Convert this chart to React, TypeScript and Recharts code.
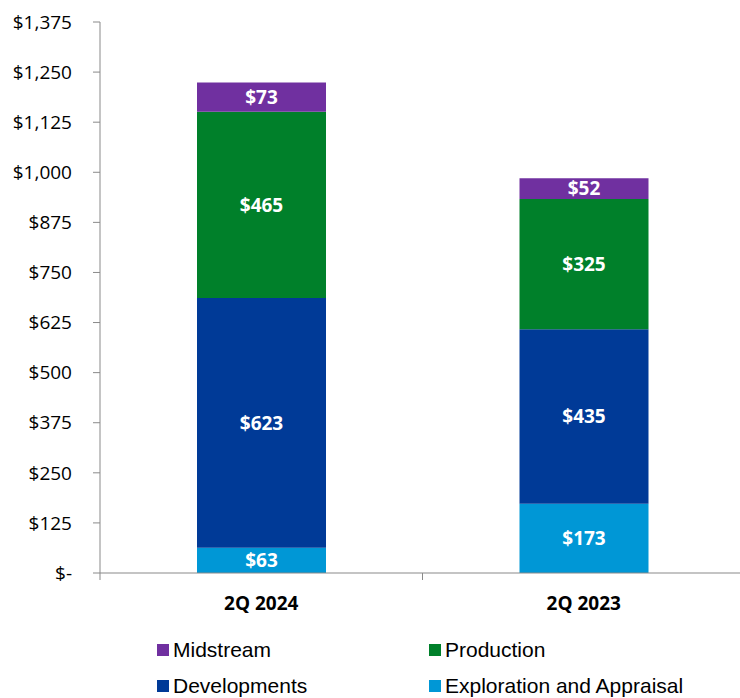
import React from "react";
import { BarChart, Bar, XAxis, YAxis, Legend, LabelList } from "recharts";

const quarters = ["2Q 2024", "2Q 2023"];
const exploration = [63, 173];
const developments = [623, 435];
const production = [465, 325];
const midstream = [73, 52];
const yTicks = [0, 125, 250, 375, 500, 625, 750, 875, 1000, 1125, 1250, 1375];

const seriesInfo = [
  { key: "midstream", name: "Midstream", color: "#7030A0" },
  { key: "production", name: "Production", color: "#00802A" },
  { key: "developments", name: "Developments", color: "#003A97" },
  { key: "exploration", name: "Exploration and Appraisal", color: "#0097D6" },
];

const data = quarters.map((q, i) => ({
  quarter: q,
  exploration: exploration[i],
  developments: developments[i],
  production: production[i],
  midstream: midstream[i],
}));

const AXIS = "#898989";
const NUM_FONT = "'Open Sans', sans-serif";

const fmtY = (v: number) => (v === 0 ? "$-" : "$" + v.toLocaleString("en-US"));

const XTick = (props: any) => {
  const { x, y, payload } = props;
  const off = payload && typeof payload.offset === "number" ? payload.offset : 161;
  return (
    <g>
      <line x1={x - off} x2={x - off} y1={y} y2={y + 7} stroke={AXIS} strokeWidth={1} />
      <line x1={x + off} x2={x + off} y1={y} y2={y + 7} stroke={AXIS} strokeWidth={1} />
      <text x={x} y={y + 37} textAnchor="middle" fontFamily={NUM_FONT} fontWeight={700} fontSize={19} fill="#000">
        {payload.value}
      </text>
    </g>
  );
};

const LegendContent = () => {
  const pos = [
    { left: 157, center: 32 },
    { left: 429, center: 32 },
    { left: 157, center: 68 },
    { left: 429, center: 68 },
  ];
  return (
    <div style={{ position: "relative", width: 745, height: 80 }}>
      {seriesInfo.map((s, i) => (
        <div
          key={s.key}
          style={{
            position: "absolute",
            left: pos[i].left,
            top: pos[i].center - 12,
            height: 24,
            display: "flex",
            alignItems: "center",
            fontFamily: "'Liberation Sans', Arial, sans-serif",
            fontSize: 21,
            lineHeight: "24px",
            color: "#000",
            whiteSpace: "nowrap",
          }}
        >
          <span style={{ display: "inline-block", width: 12, height: 12, background: s.color, marginRight: 4 }} />
          <span>{s.name}</span>
        </div>
      ))}
    </div>
  );
};

const labelFmt = (v: any) => "$" + v;

export default function App() {
  const stackOrder = ["exploration", "developments", "production", "midstream"];
  return (
    <div style={{ position: "absolute", left: 0, top: 0, width: 740, height: 698, overflow: "hidden", background: "#fff" }}>
      <BarChart
        width={745}
        height={698}
        data={data}
        margin={{ top: 22, right: 0, left: 0, bottom: 0 }}
        barSize={129}
      >
        <XAxis
          dataKey="quarter"
          height={45}
          tickLine={false}
          tickSize={0}
          tickMargin={0}
          axisLine={{ stroke: AXIS }}
          tick={<XTick />}
          interval={0}
        />
        <YAxis
          width={100}
          domain={[0, 1375]}
          ticks={yTicks}
          interval={0}
          tickFormatter={fmtY}
          tickSize={7}
          tickMargin={21}
          axisLine={{ stroke: AXIS }}
          tickLine={{ stroke: AXIS }}
          tick={{ fontFamily: NUM_FONT, fontSize: 19, fill: "#000" }}
        />
        <Legend verticalAlign="bottom" content={<LegendContent />} />
        {stackOrder.map((k) => {
          const s = seriesInfo.find((x) => x.key === k)!;
          return (
            <Bar key={k} dataKey={k} name={s.name} stackId="a" fill={s.color} isAnimationActive={false}>
              <LabelList
                dataKey={k}
                position="center"
                formatter={labelFmt}
                fill="#fff"
                style={{ fontFamily: NUM_FONT, fontWeight: 700, fontSize: 19 }}
              />
            </Bar>
          );
        })}
      </BarChart>
    </div>
  );
}
